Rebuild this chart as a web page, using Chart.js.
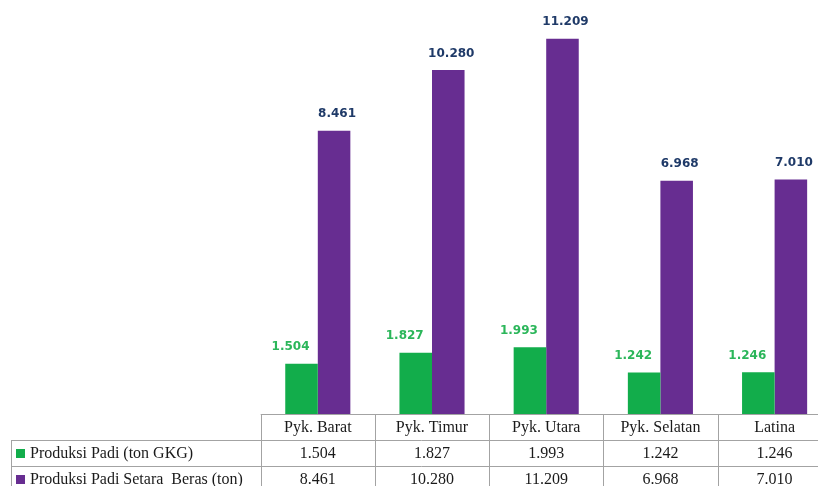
<!DOCTYPE html>
<html>
<head>
<meta charset="utf-8">
<script src="https://cdn.jsdelivr.net/npm/chart.js@4.4.1/dist/chart.umd.min.js"></script>
<style>
  html, body { margin: 0; padding: 0; background: #fff; overflow: hidden; }
  #wrap { width: 840px; height: 486px; }
</style>
</head>
<body>
<div id="wrap"><canvas id="chart" width="840" height="486"></canvas></div>
<script>
// data (values in ton)
const categories = ["Pyk. Barat", "Pyk. Timur", "Pyk. Utara", "Pyk. Selatan", "Latina"];
const seriesNames = ["Produksi Padi (ton GKG)", "Produksi Padi Setara  Beras (ton)"];
const padiGkg = [1504, 1827, 1993, 1242, 1246];
const padiBeras = [8461, 10280, 11209, 6968, 7010];

const GREEN = "#12ad4b";
const PURPLE = "#672d91";

// 8461 -> "8.461"
const fmt = (v) => String(v).replace(/\B(?=(\d{3})+(?!\d))/g, ".");

// value labels above the bars
const barLabels = {
  id: "barLabels",
  afterDatasetsDraw(chart) {
    const ctx = chart.ctx;
    ctx.save();
    ctx.font = "bold 12px 'DejaVu Sans'";
    ctx.textAlign = "center";
    ctx.textBaseline = "middle";
    chart.data.datasets.forEach((ds, i) => {
      const meta = chart.getDatasetMeta(i);
      ctx.fillStyle = ds.labelColor;
      meta.data.forEach((bar, j) => {
        ctx.fillText(fmt(ds.data[j]), bar.x + ds.labelShift, bar.y - 16.5);
      });
    });
    ctx.restore();
  }
};

// data table under the plot, columns follow the x scale
const dataTable = {
  id: "dataTable",
  afterDraw(chart) {
    const ctx = chart.ctx;
    const x = chart.scales.x;
    const top = chart.chartArea.bottom;
    const rowH = 26;
    const colW = x.getPixelForValue(1) - x.getPixelForValue(0);
    const left = x.getPixelForValue(0) - colW / 2;
    const right = left + colW * categories.length;
    const legendLeft = 11;
    const bottom = top + rowH * 3;

    ctx.save();
    ctx.strokeStyle = "#a3a3a3";
    ctx.lineWidth = 1;
    ctx.beginPath();
    ctx.moveTo(left, Math.round(top) + 0.5);
    ctx.lineTo(right, Math.round(top) + 0.5);
    for (let r = 1; r <= 2; r++) {
      const y = Math.round(top + rowH * r) + 0.5;
      ctx.moveTo(legendLeft, y);
      ctx.lineTo(right, y);
    }
    for (let c = 0; c <= categories.length; c++) {
      const xx = Math.round(left + colW * c) + 0.5;
      ctx.moveTo(xx, top);
      ctx.lineTo(xx, bottom);
    }
    ctx.moveTo(legendLeft + 0.5, top + rowH);
    ctx.lineTo(legendLeft + 0.5, bottom);
    ctx.stroke();

    ctx.fillStyle = "#1a1a1a";
    ctx.font = "16px 'Liberation Serif'";
    ctx.textBaseline = "middle";
    ctx.textAlign = "center";
    categories.forEach((c, i) => {
      ctx.fillText(c, x.getPixelForValue(i), top + rowH / 2 + 1);
    });
    chart.data.datasets.forEach((ds, r) => {
      const cy = top + rowH * (r + 1) + rowH / 2 + 1;
      ctx.textAlign = "center";
      ctx.fillStyle = "#1a1a1a";
      ds.data.forEach((v, i) => ctx.fillText(fmt(v), x.getPixelForValue(i), cy));
      ctx.fillStyle = ds.backgroundColor;
      ctx.fillRect(legendLeft + 5, Math.round(cy - 5), 9, 9);
      ctx.fillStyle = "#1a1a1a";
      ctx.textAlign = "left";
      ctx.fillText(ds.label, legendLeft + 19, cy);
    });
    ctx.restore();
  }
};

new Chart(document.getElementById("chart"), {
  type: "bar",
  data: {
    labels: categories,
    datasets: [
      {
        label: seriesNames[0],
        data: padiGkg,
        backgroundColor: GREEN,
        labelColor: "#2bb65a",
        labelShift: -11
      },
      {
        label: seriesNames[1],
        data: padiBeras,
        backgroundColor: PURPLE,
        labelColor: "#1f3a68",
        labelShift: 3
      }
    ]
  },
  options: {
    responsive: false,
    animation: false,
    layout: { padding: { left: 260.7, right: 8.3, top: 0, bottom: 72 } },
    datasets: { bar: { categoryPercentage: 0.57, barPercentage: 1.0 } },
    scales: {
      x: { display: false },
      y: { display: false, min: 0, max: 12370 }
    },
    plugins: {
      legend: { display: false },
      tooltip: { enabled: false }
    }
  },
  plugins: [barLabels, dataTable]
});
</script>
</body>
</html>
